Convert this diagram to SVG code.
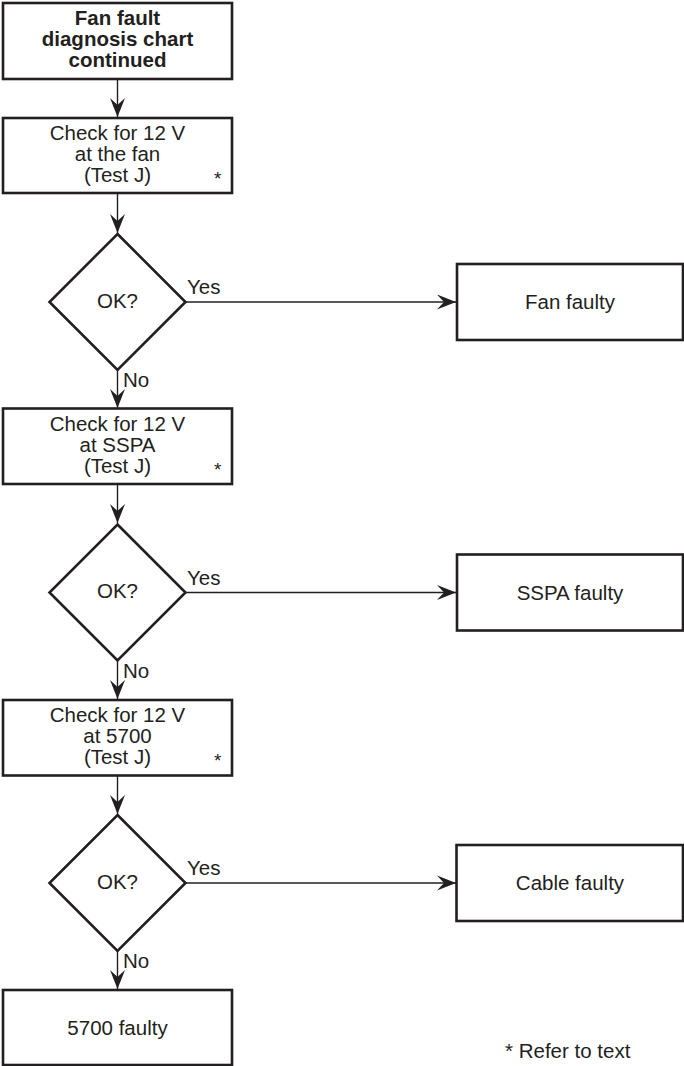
<svg xmlns="http://www.w3.org/2000/svg" width="684" height="1066" viewBox="0 0 684 1066">
  <defs>
    <marker id="arrow" markerUnits="userSpaceOnUse" markerWidth="24" markerHeight="20" viewBox="-20 -10 22 20" refX="0" refY="0" orient="auto">
      <path d="M0,0 L-19,-7.5 L-12,0 L-19,7.5 Z" fill="#231f20"/>
    </marker>
    <style>
      .box { fill: #ffffff; stroke: #231f20; stroke-width: 2.6; }
      .dia { fill: #ffffff; stroke: #231f20; stroke-width: 2.6; stroke-linejoin: miter; }
      .txt { font-family: "Liberation Sans", Arial, sans-serif; font-size: 20.5px; fill: #231f20; }
      .mid { text-anchor: middle; }
      .bold { font-weight: bold; font-size: 20.5px; }
      .star { font-family: "Liberation Sans", Arial, sans-serif; font-size: 19px; fill: #231f20; }
      .link { fill: none; stroke: #231f20; stroke-width: 1.4; marker-end: url(#arrow); }
    </style>
  </defs>
  <rect width="684" height="1066" fill="#ffffff"/>

  <!-- connectors with their Yes / No labels -->
  <g id="connectors">
    <line class="link" x1="117.5" y1="79" x2="117.5" y2="117"/>
    <line class="link" x1="117.5" y1="193" x2="117.5" y2="233"/>
    <line class="link" x1="185.5" y1="302" x2="456" y2="302"/>
    <line class="link" x1="117.5" y1="370" x2="117.5" y2="408"/>
    <line class="link" x1="117.5" y1="484" x2="117.5" y2="523"/>
    <line class="link" x1="185.5" y1="592.5" x2="456" y2="592.5"/>
    <line class="link" x1="117.5" y1="661" x2="117.5" y2="699"/>
    <line class="link" x1="117.5" y1="775" x2="117.5" y2="814"/>
    <line class="link" x1="185.5" y1="883" x2="456" y2="883"/>
    <line class="link" x1="117.5" y1="951" x2="117.5" y2="989"/>
    <text class="txt" x="187" y="294">Yes</text>
    <text class="txt" x="123" y="387">No</text>
    <text class="txt" x="187" y="584.5">Yes</text>
    <text class="txt" x="123" y="678">No</text>
    <text class="txt" x="187" y="875">Yes</text>
    <text class="txt" x="123" y="968">No</text>
  </g>

  <!-- title -->
  <g id="title">
    <rect class="box" x="3" y="3" width="229" height="76"/>
    <text class="txt bold mid" x="117.5" y="24.5">Fan fault</text>
    <text class="txt bold mid" x="117.5" y="45.5">diagnosis chart</text>
    <text class="txt bold mid" x="117.5" y="66.5">continued</text>
  </g>

  <!-- check at the fan -->
  <g id="check-fan">
    <rect class="box" x="3" y="118" width="229" height="75"/>
    <text class="txt mid" x="117.5" y="140">Check for 12 V</text>
    <text class="txt mid" x="117.5" y="161">at the fan</text>
    <text class="txt mid" x="117.5" y="182">(Test J)</text>
    <text class="star" x="214" y="185">*</text>
  </g>

  <g id="ok-1">
    <polygon class="dia" points="117.5,234 185.5,302 117.5,370 49.5,302"/>
    <text class="txt mid" x="117.5" y="307.5">OK?</text>
  </g>

  <g id="fan-faulty">
    <rect class="box" x="457" y="264" width="226" height="76"/>
    <text class="txt mid" x="570" y="309">Fan faulty</text>
  </g>

  <!-- check at SSPA -->
  <g id="check-sspa">
    <rect class="box" x="3" y="408.5" width="229" height="75.5"/>
    <text class="txt mid" x="117.5" y="430.5">Check for 12 V</text>
    <text class="txt mid" x="117.5" y="451.5">at SSPA</text>
    <text class="txt mid" x="117.5" y="472.5">(Test J)</text>
    <text class="star" x="214" y="475.5">*</text>
  </g>

  <g id="ok-2">
    <polygon class="dia" points="117.5,524.5 185.5,592.5 117.5,660.5 49.5,592.5"/>
    <text class="txt mid" x="117.5" y="598">OK?</text>
  </g>

  <g id="sspa-faulty">
    <rect class="box" x="457" y="554.5" width="226" height="76"/>
    <text class="txt mid" x="570" y="599.5">SSPA faulty</text>
  </g>

  <!-- check at 5700 -->
  <g id="check-5700">
    <rect class="box" x="3" y="700" width="229" height="75.5"/>
    <text class="txt mid" x="117.5" y="722">Check for 12 V</text>
    <text class="txt mid" x="117.5" y="743">at 5700</text>
    <text class="txt mid" x="117.5" y="764">(Test J)</text>
    <text class="star" x="214" y="767">*</text>
  </g>

  <g id="ok-3">
    <polygon class="dia" points="117.5,815 185.5,883 117.5,951 49.5,883"/>
    <text class="txt mid" x="117.5" y="888.5">OK?</text>
  </g>

  <g id="cable-faulty">
    <rect class="box" x="456.5" y="845" width="226.5" height="76"/>
    <text class="txt mid" x="570" y="890">Cable faulty</text>
  </g>

  <g id="unit-faulty">
    <rect class="box" x="3" y="990" width="229" height="75"/>
    <text class="txt mid" x="117.5" y="1034.5">5700 faulty</text>
  </g>

  <g id="note">
    <text class="txt" x="505" y="1058">* Refer to text</text>
  </g>
</svg>
